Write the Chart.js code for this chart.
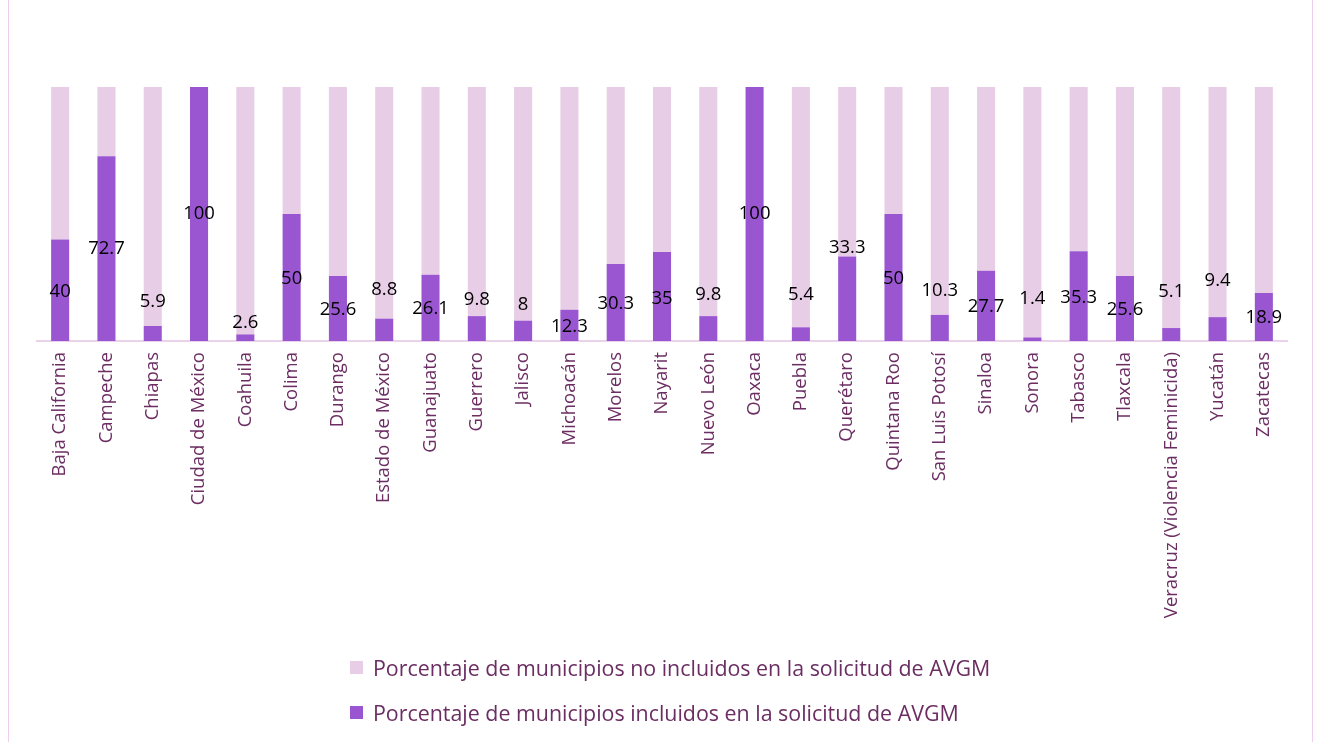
<!DOCTYPE html>
<html>
<head>
<meta charset="utf-8">
<script src="https://cdn.jsdelivr.net/npm/chart.js@4.4.0/dist/chart.umd.min.js"></script>
<style>
    body { margin: 0; background: #fff; font-family: 'Open Sans', sans-serif; }
    #wrap { position: relative; width: 1319px; height: 742px; overflow: hidden; }
    #frame { position: absolute; left: 8px; right: 6px; top: -2px; bottom: -2px; border: 1px solid #efcdef; }
    #legend { position: absolute; left: 350px; top: 652px; }
    .item { display: flex; align-items: center; height: 30px; margin-bottom: 15px; color: #6b2d62; font-size: 21.4px; }
    .box { width: 13px; height: 13px; margin-right: 10px; }
</style>
</head>
<body>
<div id="wrap">
    <div id="frame"></div>
    <canvas id="chart" width="1319" height="742"></canvas>
    <div id="legend"></div>
</div>
<script>
// Datos
const estados = ['Baja California', 'Campeche', 'Chiapas', 'Ciudad de México', 'Coahuila', 'Colima', 'Durango',
    'Estado de México', 'Guanajuato', 'Guerrero', 'Jalisco', 'Michoacán', 'Morelos', 'Nayarit', 'Nuevo León',
    'Oaxaca', 'Puebla', 'Querétaro', 'Quintana Roo', 'San Luis Potosí', 'Sinaloa', 'Sonora', 'Tabasco',
    'Tlaxcala', 'Veracruz (Violencia Feminicida)', 'Yucatán', 'Zacatecas'];
const incluidos = [40, 72.7, 5.9, 100, 2.6, 50, 25.6, 8.8, 26.1, 9.8, 8, 12.3, 30.3, 35, 9.8,
    100, 5.4, 33.3, 50, 10.3, 27.7, 1.4, 35.3, 25.6, 5.1, 9.4, 18.9];
const noIncluidos = [60, 27.3, 94.1, 0, 97.4, 50, 74.4, 91.2, 73.9, 90.2, 92, 87.7, 69.7, 65, 90.2,
    0, 94.6, 66.7, 50, 89.7, 72.3, 98.6, 64.7, 74.4, 94.9, 90.6, 81.1];
// altura (en % del eje) donde se colocaron las etiquetas en el original
const etiquetaEn = [19.5, 36.2, 15.5, 50, 7, 24.5, 12.2, 20.1, 12.6, 16.2, 14.2, 5.6, 14.6, 16.8, 18.4,
    50, 18.4, 36.6, 24.5, 19.9, 13.3, 16.5, 17.1, 12.5, 19.5, 23.7, 9];

const colorIncl = '#9a56d1';
const colorNoIncl = '#e8cde6';

// Etiquetas de valores
const valueLabels = {
    id: 'valueLabels',
    afterDatasetsDraw(chart) {
        const ctx = chart.ctx;
        const meta = chart.getDatasetMeta(0);
        const y = chart.scales.y;
        ctx.save();
        ctx.font = '18.5px "Open Sans"';
        ctx.fillStyle = '#000';
        ctx.textAlign = 'center';
        ctx.textBaseline = 'middle';
        meta.data.forEach((bar, i) => {
            ctx.fillText(String(incluidos[i]), bar.x, y.getPixelForValue(etiquetaEn[i]));
        });
        ctx.restore();
    }
};

const chart = new Chart(document.getElementById('chart'), {
    type: 'bar',
    data: {
        labels: estados,
        datasets: [{
            label: 'Porcentaje de municipios incluidos en la solicitud de AVGM',
            data: incluidos,
            backgroundColor: colorIncl,
            barPercentage: 0.39,
            categoryPercentage: 1
        }, {
            label: 'Porcentaje de municipios no incluidos en la solicitud de AVGM',
            data: noIncluidos,
            backgroundColor: colorNoIncl,
            barPercentage: 0.39,
            categoryPercentage: 1
        }]
    },
    options: {
        responsive: false,
        animation: false,
        layout: { padding: { left: 37, right: 32, top: 87, bottom: 112 } },
        plugins: {
            legend: { display: false },
            tooltip: { enabled: false }
        },
        scales: {
            x: {
                stacked: true,
                afterFit: (scale) => { scale.height = 289; },
                grid: { display: true, drawOnChartArea: false, drawTicks: false },
                border: { display: true, color: '#ead3ea', width: 2 },
                ticks: {
                    color: '#6b2d62',
                    font: { family: 'Open Sans', size: 18.5 },
                    minRotation: 90,
                    maxRotation: 90,
                    autoSkip: false,
                    padding: 11
                }
            },
            y: {
                stacked: true,
                display: false,
                min: 0,
                max: 100
            }
        }
    },
    plugins: [valueLabels]
});

// Leyenda (no incluidos primero, como en el original)
const legend = document.getElementById('legend');
[...chart.data.datasets].reverse().forEach(ds => {
    const item = document.createElement('div');
    item.className = 'item';
    item.innerHTML = `<span class="box" style="background:${ds.backgroundColor}"></span><span>${ds.label}</span>`;
    legend.appendChild(item);
});
</script>
</body>
</html>
